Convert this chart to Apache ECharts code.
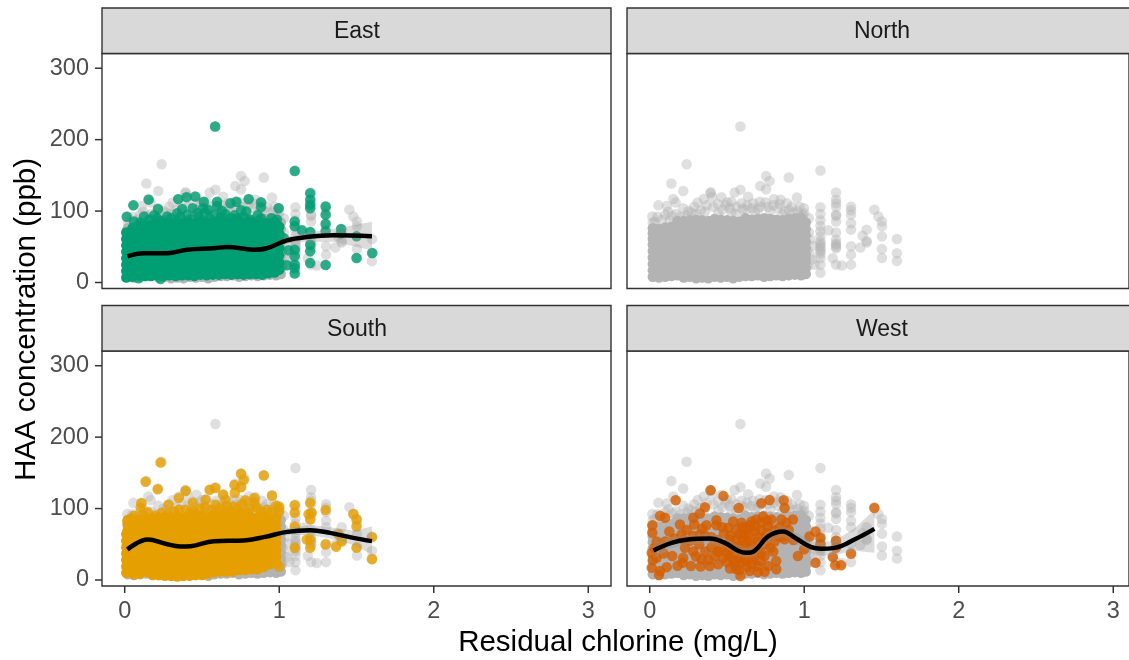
<!DOCTYPE html>
<html>
<head>
<meta charset="utf-8">
<title>HAA concentration by residual chlorine</title>
<script src="https://cdn.jsdelivr.net/npm/echarts@6/dist/echarts.min.js"></script>
<style>
  html, body { margin: 0; padding: 0; background: #fff; overflow: hidden; }
  #main { width: 1129px; height: 660px; }
</style>
</head>
<body>
<div id="main"></div>
<script>
const regions = ['East', 'North', 'South', 'West'];
const xTicks = [0, 1, 2, 3];
const yTicks = [0, 100, 200, 300];

// all samples, shown grey behind every panel: [x, y]
const greyScatter = [
  [0.587,218.5],[0.239,165.5],[0.14,138.5],[0.217,128],[1.105,156.7],[0.9,147],[0.753,149],[0.776,142],[0.716,135],[0.753,130.6],
  [0.587,130],[0.55,126],[0.394,126.5],[0.394,125],[0.35,117],[0.153,117],[0.168,112],[0.056,108],[0.11,107],[0.217,104],[0.288,106],
  [0.465,119.5],[0.404,120],[0.529,113],[0.637,120],[0.594,111],[0.712,113],[0.804,117],[0.847,116],[0.888,111],[0.953,119],[0.998,104],
  [0.017,92.5],[0.034,85],[0.1,95],[0.142,93.4],[0.357,99.5],[0.443,97],[0.518,104],[0.561,106],[0.669,111],[0.766,106],[0.83,104],
  [0.873,99.5],[0.959,99.5],[1,97],[0.25,100],[0.31,112],[0.49,108],[0.62,102],[0.7,103],[0.92,106],
  [0.02,84],[0.05,92],[0.08,88],[0.12,99],[0.13,86],[0.17,96],[0.2,92],[0.24,94],[0.27,98],[0.3,96],[0.33,101],[0.37,108],[0.41,106],[0.44,110],[0.47,102],
  [0.5,112],[0.53,98],[0.56,96],[0.6,103],[0.63,108],[0.66,104],[0.68,99],[0.72,106],[0.75,112],[0.78,100],[0.8,108],[0.84,110],[0.86,96],[0.9,102],[0.93,98],[0.97,106],[0.99,95],
  [1.105,105.5],[1.105,96],[1.105,87],[1.105,79],[1.105,71.6],[1.105,64.6],[1.105,58],[1.105,55],[1.105,52],[1.105,49],[1.105,46],[1.105,43],[1.105,40],[1.105,34],[1.105,25],[1.105,13.5],
  [1.157,73],[1.206,126],[1.206,116],[1.206,111],[1.206,106],[1.206,95],[1.206,93],[1.206,85.5],[1.206,70],[1.206,60],[1.206,55],[1.206,53],[1.206,50],[1.206,48],[1.206,25],
  [1.185,34],[1.243,23.7],[1.303,106],[1.303,101],[1.303,95],[1.303,83],[1.303,74],[1.303,50.7],[1.303,39],[1.303,25],
  [1.067,25],[1.056,51],[1.03,70],[1.04,38],[1.02,22],[1.03,90],[1.04,60],[1.02,46],[1.05,32],[1.404,74],[1.378,65.5],[1.404,56],[1.404,58],[1.363,49],[1.454,102],[1.48,92.5],[1.503,85.5],[1.503,78.6],[1.503,64.6],[1.503,47],[1.503,34.4],
  [1.6,61],[1.6,41],[1.6,30]
];
// the dense part of the grey cloud: [x, [y, y, ...]]
const greyColumns = [
  [0.02,[8,17,26,35,44,53,61,69,76]],[0.06,[7,16,25,34,43,52,60,68,75]],[0.10,[8,17,25,34,43,51,60,68,77]],
  [0.14,[9,18,27,35,44,53,62,70,78]],[0.18,[10,18,26,35,44,52,61,70,79,86]],[0.22,[7,15,24,33,42,51,60,69,78,86]],
  [0.26,[8,16,25,34,43,52,61,70,79,87]],[0.30,[6,15,24,33,42,51,60,69,78,88]],[0.34,[7,16,25,33,42,51,60,69,78,87]],
  [0.38,[6,15,24,33,42,50,59,68,77,86]],[0.42,[8,17,25,34,43,52,61,70,79,89]],[0.46,[7,16,24,33,42,51,60,69,78,88]],
  [0.50,[8,16,25,34,43,52,61,70,79,87]],[0.54,[6,15,24,33,42,51,60,69,78,86]],[0.58,[8,17,26,35,44,53,62,71,80,85]],
  [0.62,[9,18,26,35,44,53,62,70,79,90]],[0.66,[9,17,26,35,44,52,61,70,79,88]],[0.70,[10,19,27,36,45,54,62,71,80,89]],
  [0.74,[8,17,26,35,44,53,62,71,80,90]],[0.78,[9,18,27,35,44,53,62,71,80,89]],[0.82,[10,18,27,36,45,54,62,71,80,88]],
  [0.86,[9,18,27,36,44,53,62,71,80,87]],[0.90,[10,19,28,37,46,55,64,72,81,89]],[0.94,[11,19,28,37,46,55,64,73,82,90]],
  [0.98,[10,19,28,37,46,55,64,73,82,91]],[1.01,[12,21,30,39,48,57,66,75,84]]
];

const eastScatter = [
  [0.585,218.5],[1.1,156],[1.2,125],[1.2,116],[1.2,109],[1.2,104],[1.3,106.5],[1.3,95],[1.3,82],[1.3,71.6],[1.4,75],[1.4,69],
  [1.5,64.6],[1.5,34.4],[1.602,41.4],[1.3,24.6],[1.2,27.4],[1.2,43.7],[1.2,53],[1.2,70.7],[1.1,85.5],[1.1,78.6],[1.1,46],[1.1,36.7],[1.1,25],[1.1,12.5],[1.1,20],[1.05,24],[1.146,73],[1.06,45],[1.03,62],
  [0.056,108],[0.155,116],[0.013,92],[0.06,85.5],[0.215,103],[0.125,92.5],[0.346,116.7],[0.4,119.5],[0.456,120.4],[0.512,113],[0.507,104],
  [0.598,113],[0.684,111],[0.723,113],[0.802,116.7],[0.882,112.5],[0.882,105.5],[0.996,104],[0.753,101],[0.787,99.5],[0.372,103],[0.34,97],
  [0.469,97],[0.598,107],[0.21,90],[0.275,92.5],[0.404,95],[0.882,90],[0.92,82],[0.985,88],[0.684,90],[0.834,84],[0.232,5],[0.09,6],
  [0.1,84],[0.16,88],[0.19,94],[0.24,86],[0.3,90],[0.36,92],[0.43,88],[0.48,92],[0.52,98],[0.55,90],[0.58,95],[0.62,92],[0.65,96],[0.71,94],[0.73,90],[0.77,92],[0.81,88],[0.86,94],[0.95,90],[0.44,104],[0.54,102],[0.63,100]
];
const eastColumns = [
  [0.01,[7,16,25,34,43,52,61,70]],[0.05,[8,17,26,35,44,53,62,71,76]],[0.09,[10,19,28,37,46,55,64,73,80]],
  [0.13,[9,18,27,36,45,54,63,72,79]],[0.17,[9,18,27,36,45,54,63,72,80]],[0.21,[10,19,28,37,46,55,64,73,82]],
  [0.25,[9,18,27,36,45,54,63,72,83]],[0.29,[10,19,28,37,46,55,64,73,82]],[0.33,[9,18,27,36,45,54,63,72,84]],
  [0.37,[10,19,28,37,46,55,64,73,83]],[0.41,[10,19,28,37,46,55,64,73,85]],[0.45,[9,18,27,36,45,54,63,72,82]],
  [0.49,[11,20,29,38,47,56,65,74,86]],[0.53,[10,19,28,37,46,55,64,73,84]],[0.57,[11,20,29,38,47,56,65,74,83]],
  [0.61,[11,20,29,38,47,56,65,74,86]],[0.65,[12,21,30,39,48,57,66,75,85]],[0.69,[11,20,29,38,47,56,65,74,84]],
  [0.73,[12,21,30,39,48,57,66,75,86]],[0.77,[11,20,29,38,47,56,65,74,83]],[0.81,[12,21,30,39,48,57,66,75,85]],
  [0.85,[12,21,30,39,48,57,66,75,82]],[0.89,[11,20,29,38,47,56,65,74,84]],[0.93,[13,22,31,40,49,58,67,76,83]],
  [0.97,[14,23,32,41,50,59,68,77,85]],[1.0,[18,28,38,48,58,68,78]]
];

const southScatter = [
  [0.232,164.6],[0.135,137.6],[0.213,127],[0.753,148.8],[0.77,140],[0.9,146.4],[0.71,133],[0.753,129.7],[0.712,121.8],[0.394,124.6],[0.35,114.8],
  [0.55,126.5],[0.587,128.8],[0.953,118],[0.282,105.5],[0.108,107.9],[0.103,101],[0.637,119.5],[0.523,112.5],[0.652,112.5],[0.78,111.6],[0.839,114.8],
  [1,102],[1.1,104.6],[1.1,94],[1.1,75],[1.1,45],[1.2,108],[1.21,94],[1.19,92],[1.2,84.6],[1.2,56.7],[1.178,56.7],[1.2,45],[1.3,98],[1.3,49.7],
  [1.368,46.5],[1.404,54],[1.48,92.5],[1.5,84.6],[1.5,75],[1.5,45],[1.6,60],[1.6,29],[1,18.6],[1.383,64],
  [0.017,82],[0.35,98.5],[0.394,98.5],[0.447,96],[0.587,105.5],[0.705,103],[0.856,101],[0.92,98.5],[1,96],[0.06,90],[0.15,95],[0.24,94],[0.62,100],[0.49,100],[0.81,100],
  [0.04,86],[0.12,92],[0.2,90],[0.28,92],[0.32,96],[0.42,94],[0.46,92],[0.52,102],[0.56,98],[0.6,96],[0.66,104],[0.68,96],[0.73,100],[0.76,106],[0.8,94],[0.84,108],[0.88,96],[0.95,95],[0.98,104],[0.44,108],[0.66,96]
];
const southColumns = [
  [0.01,[10,19,28,37,46,55,64]],[0.02,[14,23,32,41,50,59,70,78,84]],[0.06,[8,17,26,35,44,53,62,71,82]],[0.10,[9,18,27,36,45,54,63,72,85]],
  [0.14,[12,21,30,39,48,57,66,75,84]],[0.18,[7,16,25,34,43,52,61,70,79,86]],[0.22,[7,16,25,34,43,52,61,70,79,87]],
  [0.26,[6,15,24,33,42,51,60,69,78,88]],[0.30,[6,15,24,33,42,51,60,69,78,87]],[0.34,[5,14,23,32,41,50,59,68,77,89]],
  [0.38,[6,15,24,33,42,51,60,69,78,87]],[0.42,[6,15,24,33,42,51,60,69,78,88]],[0.46,[7,16,25,34,43,52,61,70,79,89]],
  [0.50,[7,16,25,34,43,52,61,70,79,90]],[0.54,[9,18,27,36,45,54,63,72,81,88]],[0.58,[11,20,29,38,47,56,65,74,83,92]],
  [0.62,[12,21,30,39,48,57,66,75,84,92]],[0.66,[12,21,30,39,48,57,66,75,84,93]],[0.70,[12,21,30,39,48,57,66,75,84,92]],
  [0.74,[14,23,32,41,50,59,68,77,86,94]],[0.78,[14,23,32,41,50,59,68,77,86,93]],[0.82,[15,24,33,42,51,60,69,78,87]],
  [0.86,[15,24,33,42,51,60,69,78,87]],[0.90,[18,27,36,45,54,63,72,81,89]],[0.94,[22,31,40,49,58,67,76,85]],[0.98,[24,33,42,51,60,69,78,87]]
];

const westScatter = [
  [0.394,125.5],[0.477,117.6],[0.168,111.6],[0.357,101.8],[0.576,100.9],[0.723,107.4],[0.776,112],[0.867,111.6],[0.873,100.9],[1.454,100.9],
  [0.067,90],[0.099,87],[0.017,76.7],[0.017,66],[0.127,68],[0.196,77.6],[0.282,87],[0.325,93],[0.288,77.6],[0.368,76.7],[0.432,83.7],[0.432,76.7],
  [0.54,82],[0.594,80],[0.647,76.7],[0.69,84.6],[0.733,89],[0.723,80],[0.787,84.6],[0.852,84.6],[0.927,84.6],[0.884,80],[0.766,75],[0.68,68],[0.615,63.7],
  [0.508,73],[0.325,63.7],[0.206,63.7],[0.045,54],[0.077,49.7],[0.013,38],[0.045,31],[0.146,33.5],[0.217,31],[0.228,45],[0.282,40],[0.335,29],[0.267,19.5],
  [0.213,24],[0.11,18],[0.013,17],[0.06,7],[0.067,12.5],[0.389,19.5],[0.443,22],[0.42,33.5],[0.475,31],[0.55,22],[0.587,5.6],[0.561,15],[0.647,12.5],[0.744,11.6],
  [0.819,15],[0.819,26.5],[0.766,19.5],[0.7,19.5],[0.68,33.5],[0.529,36],[0.594,36],[0.744,33.5],[0.572,47],[0.658,50],[0.809,54],[0.873,57],[0.959,33.5],[1,43],
  [1.034,61],[1.073,68],[1.105,59],[1.105,50],[1.073,24],[1.185,32],[1.206,55],[1.206,45],[1.303,36.7],[1.2,20.5],[1.239,20.5],
  [0.52,62],[0.56,70],[0.6,58],[0.64,64],[0.7,60],[0.72,70],[0.76,66],[0.8,70],[0.66,42],[0.7,44],[0.62,27],[0.66,22],[0.72,27],[0.58,14],[0.5,25],[0.52,16],
  [0.46,44],[0.5,50],[0.44,56],[0.4,46],[0.36,40],[0.32,50],[0.26,55],[0.24,70],[0.3,33],[0.38,28],[0.33,19],[0.6,25],[0.63,18],[0.7,11],[0.8,40],[0.78,45],
  [0.86,68],[0.9,70],[0.84,74],[0.03,45],[0.02,28],[0.09,37],[0.18,20],[0.48,65],[0.56,56],[0.62,72],[0.68,75],[0.76,83],[0.6,44],[0.64,36],
  [0.58,30],[0.54,28],[0.66,30],[0.72,38],[0.75,50],[0.7,54],[0.64,55],[0.58,64],[0.52,56],[0.47,74],[0.6,74],[0.66,82],[0.74,60],[0.82,62],[0.89,62],[0.93,56],[0.85,60],[0.79,62],[0.55,44],[0.5,38],[0.44,40],[0.4,60],[0.36,62],[0.28,62],[0.22,56],[0.16,58],[0.1,54],[0.34,72],[0.52,42],[0.62,50]
];
const westColumns = [];

// smooth curves, one x/y pair of arrays per region, plus confidence band
const eastCurveX = [0.017,0.125,0.275,0.404,0.576,0.662,0.834,0.92,1.05,1.178,1.35,1.6];
const eastCurveY = [36.7,41,41,46,48,49.7,46,48,59,63.7,66,64.6];
const eastBandLow = [33,38,39,44,46,47,44,45,55,57,57,45];
const eastBandHigh = [40,44,43,48,50,52,48,51,63,70,75,85];
const southCurveX = [0.017,0.15,0.264,0.36,0.426,0.576,0.77,0.9,1.05,1.2,1.33,1.48,1.6];
const southCurveY = [42.8,56.7,50.7,47,47.4,54.4,55.3,60,67.4,69.7,66,59,54.4];
const southBandLow = [38,54,48,45,45,52,53,57,63,63,58,49,36];
const southBandHigh = [48,59,53,49,50,57,58,63,72,77,74,69,75];
const westCurveX = [0.024,0.142,0.249,0.389,0.486,0.572,0.626,0.68,0.766,0.862,0.948,1.045,1.11,1.196,1.325,1.454];
const westCurveY = [41.4,52,56.7,58,52,41,38,41,61,68,58,46,43.7,45,56.7,71.6];
const westBandLow = [30,44,50,51,45,33,30,33,53,60,50,38,34,35,41,38];
const westBandHigh = [53,60,63,65,59,49,46,49,69,76,66,54,53,55,72,98];

const regionColours = { East: '#009E73', South: '#E69F00', West: '#D55E00' };
const pointData = { East: eastScatter, South: southScatter, West: westScatter };
const coreData = { East: eastColumns, South: southColumns, West: westColumns };
const curves = {
  East: [eastCurveX, eastCurveY, eastBandLow, eastBandHigh],
  South: [southCurveX, southCurveY, southBandLow, southBandHigh],
  West: [westCurveX, westCurveY, westBandLow, westBandHigh]
};

// the right column runs off the page, so its grid stops at the page edge
const panelLeft = [102, 627];
const panelTop = [53.5, 351];
const panelWidth = [509, 502];
const xMin = -0.147;
const xMax = [3.147, 3.102];
const yMin = -8.4;
const yMax = 320.6;
const panelHeight = 235;
const stripHeight = 45.5;
const tickLength = 7;
const tickWidth = 1.5;

const expand = cols => cols.flatMap(c => c[1].map(y => [c[0], y]));
const scatter = (idx, data, color, opacity, z) => ({
  type: 'scatter', xAxisIndex: idx, yAxisIndex: idx, data: data, symbolSize: 10.5,
  itemStyle: { color: color, opacity: opacity }, silent: true, z: z
});

const grids = [], xAxes = [], yAxes = [], series = [], titles = [], strips = [];

regions.forEach((name, i) => {
  const col = i % 2, row = i < 2 ? 0 : 1;
  const left = panelLeft[col], top = panelTop[row], width = panelWidth[col];
  grids.push({
    left: left, top: top, width: width, height: panelHeight, show: true,
    backgroundColor: '#fff', borderColor: '#333', borderWidth: 1.4
  });
  xAxes.push({
    type: 'value', gridIndex: i, min: xMin, max: xMax[col],
    axisLine: { show: false, onZero: false }, splitLine: { show: false }, axisTick: { show: false },
    axisLabel: { show: row === 1, color: '#4d4d4d', fontSize: 23.5, fontFamily: 'Liberation Sans', margin: 14, customValues: xTicks }
  });
  yAxes.push({
    type: 'value', gridIndex: i, min: yMin, max: yMax,
    axisLine: { show: false, onZero: false }, splitLine: { show: false }, axisTick: { show: false },
    axisLabel: { show: col === 0, color: '#4d4d4d', fontSize: 23.5, fontFamily: 'Liberation Sans', margin: 13, customValues: yTicks }
  });

  series.push(scatter(i, greyScatter, '#b3b3b3', 0.42, 2));
  series.push(scatter(i, expand(greyColumns), '#b3b3b3', 1, 3));

  if (regionColours[name]) {
    series.push(scatter(i, pointData[name], regionColours[name], 0.8, 4));
    series.push(scatter(i, expand(coreData[name]), regionColours[name], 1, 5));

    const [cx, cy, low, high] = curves[name];
    series.push({
      type: 'custom', xAxisIndex: i, yAxisIndex: i, silent: true, z: 6, clip: true,
      data: cx.map((x, k) => [x, low[k], high[k]]),
      renderItem: (params, api) => {
        if (params.dataIndex !== 0) return null;
        const upper = cx.map((x, k) => api.coord([x, high[k]]));
        const lower = cx.map((x, k) => api.coord([x, low[k]])).reverse();
        return { type: 'polygon', shape: { points: upper.concat(lower) }, style: { fill: '#999', opacity: 0.35 } };
      }
    });
    series.push({
      type: 'line', xAxisIndex: i, yAxisIndex: i, silent: true, z: 7, smooth: 0.4,
      showSymbol: false, data: cx.map((x, k) => [x, cy[k]]),
      lineStyle: { color: '#000', width: 4.5 }
    });
  }

  strips.push({
    type: 'rect', z: 1,
    shape: { x: left, y: top - stripHeight, width: 509, height: stripHeight },
    style: { fill: '#d9d9d9', stroke: '#333', lineWidth: 1.4 }
  });
  titles.push({
    text: name, left: left + 509 / 2 + 0.5, top: top - stripHeight / 2 + 1, textAlign: 'center', textVerticalAlign: 'middle',
    padding: 0, textStyle: { color: '#1a1a1a', fontSize: 23, fontWeight: 'normal', fontFamily: 'Liberation Sans' }
  });
});

const axisTitles = [
  {
    type: 'text', x: 618, y: 643, z: 2,
    style: { text: 'Residual chlorine (mg/L)', fill: '#000', fontSize: 29.5, fontFamily: 'Liberation Sans', textAlign: 'center', textVerticalAlign: 'middle' }
  },
  {
    type: 'text', x: 27, y: 319.5, rotation: Math.PI / 2, z: 2,
    style: { text: 'HAA concentration (ppb)', fill: '#000', fontSize: 29.5, fontFamily: 'Liberation Sans', textAlign: 'center', textVerticalAlign: 'middle' }
  }
];

const chart = echarts.init(document.getElementById('main'));
chart.setOption({
  animation: false,
  backgroundColor: '#fff',
  title: titles,
  grid: grids,
  xAxis: xAxes,
  yAxis: yAxes,
  series: series
});

// tick marks as small rects, placed from the axis scales once the grids are laid out
const tickRect = (x, y, w, h) => ({
  type: 'rect', z: 100, shape: { x: x, y: y, width: w, height: h }, style: { fill: '#333' }
});
const tickRects = [];
[2, 3].forEach(i => {
  const edge = panelTop[1] + panelHeight;
  xTicks.forEach(v => {
    const px = chart.convertToPixel({ xAxisIndex: i }, v);
    tickRects.push(tickRect(px - tickWidth / 2, edge, tickWidth, tickLength));
  });
});
[0, 2].forEach(i => {
  yTicks.forEach(v => {
    const py = chart.convertToPixel({ yAxisIndex: i }, v);
    tickRects.push(tickRect(panelLeft[0] - tickLength, py - tickWidth / 2, tickLength, tickWidth));
  });
});
chart.setOption({ graphic: strips.concat(axisTitles, tickRects) });
</script>
</body>
</html>
